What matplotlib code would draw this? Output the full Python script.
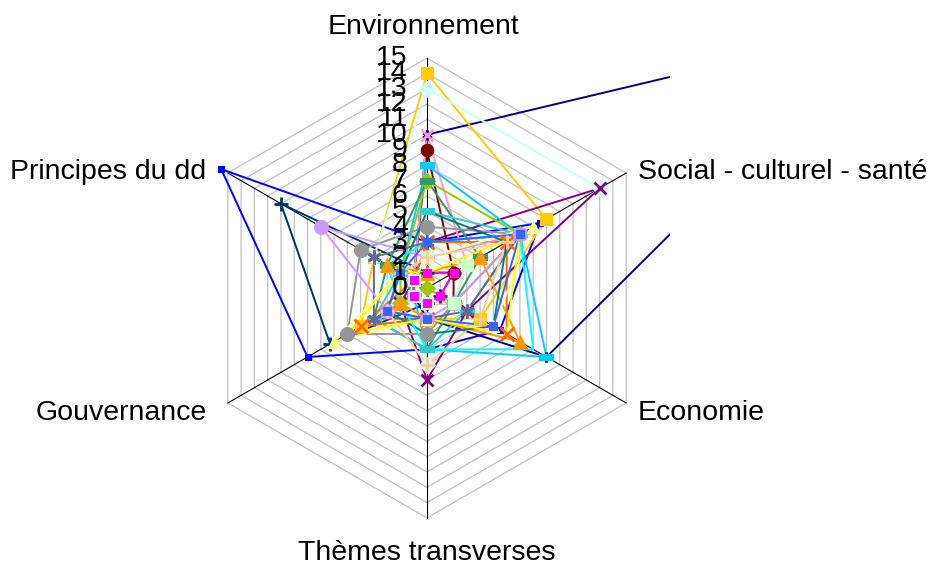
import numpy as np
import matplotlib
matplotlib.use("Agg")
import matplotlib.pyplot as plt
from matplotlib.path import Path

categories = ['Environnement', 'Social - culturel - santé', 'Economie',
              'Thèmes transverses', 'Gouvernance', 'Principes du dd']
ticks = list(range(0, 16))

# one list per series: Env, Social, Economie, Themes, Gouvernance, Principes
s01 = [10, 34, 9, 2, 1, 1]
s02 = [3, 8.5, 5.5, 4, 9, 15.5]
s03 = [1, 2, 1, 1, 7.3, 11]
s04 = [14, 9, 4, 2, 5, 4]
s05 = [13, 13, 3, 5, 2, 4]
s06 = [3, 13, 3, 6, 2, 1]
s07 = [9, 2, 2, 1, 1, 1]
s08 = [10, 3, 2, 1, 1, 1]
s09 = [8, 7, 9, 4, 1, 2]
s10 = [7, 7, 2, 0, 2, 2]
s11 = [7, 4, 2, 4, 4, 3]
s12 = [5, 7, 3, 4, 4, 2]
s13 = [4, 7, 2, 3, 6, 5]
s14 = [3, 6, 6, 2, 5, 1]
s15 = [3, 7, 3, 2, 4, 4]
s16 = [1, 4, 7, 2, 2, 3]
s17 = [2, 7, 2, 2, 3, 8]
s18 = [2, 3, 2, 1, 1, 1]
s19 = [2, 8, 5, 2, 7, 2]
s20 = [2, 6, 4, 5, 3, 2]
s21 = [1, 2, 1, 1, 1, 1]
s22 = [5, 6, 5, 3, 3, 2]
s23 = [3, 7, 8, 4, 2, 3]
s24 = [3, 7, 5, 2, 3, 2]
s25 = [1, 7, 6, 2, 6, 2]

series = [s01, s02, s03, s04, s05, s06, s07, s08, s09, s10, s11, s12, s13,
          s14, s15, s16, s17, s18, s19, s20, s21, s22, s23, s24, s25]

rect = Path([(-1, -0.4), (1, -0.4), (1, 0.4), (-1, 0.4), (-1, -0.4)],
            [Path.MOVETO, Path.LINETO, Path.LINETO, Path.LINETO, Path.CLOSEPOLY])
star = (6, 2, 0)

styles = [
    ('#000080', star, 7), ('#0000FF', 's', 5), ('#003366', '+', 10),
    ('#FFCC00', 's', 9), ('#CCFFFF', 'D', 8), ('#800080', 'x', 9),
    ('#800000', 'o', 9), ('#FF99CC', 'x', 9), ('#00CCFF', rect, 10),
    ('#99CC00', 'D', 8), ('#339966', rect, 10), ('#33CCCC', rect, 10),
    ('#969696', 'o', 10), ('#FF6600', 'x', 10), ('#666699', star, 10),
    ('#FF9900', '^', 10), ('#CC99FF', 'o', 10), ('#CCFFCC', 's', 9),
    ('#FFFF99', '^', 9), ('#FFCC99', '+', 10), ('#FF00FF', 's', 6),
    ('#008080', None, 0), ('#00FFFF', None, 0), ('#3366FF', 's', 6),
    ('#FFFF00', None, 0),
]

n = len(categories)
ang = np.deg2rad(90 - 60 * np.arange(n))
ca, sa = np.cos(ang), np.sin(ang)

def to_xy(vals):
    v = np.asarray(vals, dtype=float)
    x = np.append(v * ca, v[0] * ca[0])
    y = np.append(v * sa, v[0] * sa[0])
    return x, y

fig = plt.figure(figsize=(9.28, 5.66), dpi=100)
plt.rcParams['font.family'] = ['Liberation Sans', 'DejaVu Sans']

# pixel layout: centre at (427, 288), 15.33 px per unit
ppu = 15.33
left_px, right_px, top_px, bot_px = 205, 670, 40, 530
ax = fig.add_axes([left_px / 928, (566 - bot_px) / 566,
                   (right_px - left_px) / 928, (bot_px - top_px) / 566])
ax.set_xlim((left_px - 427) / ppu, (right_px - 427) / ppu)
ax.set_ylim((288 - bot_px) / ppu, (288 - top_px) / ppu)
ax.axis('off')

# hexagonal grid
for t in ticks[1:]:
    gx, gy = to_xy([t] * n)
    ax.plot(gx, gy, color='#C0C0C0', lw=0.9, zorder=1)
for k in range(n):
    ax.plot([0, 15 * ca[k]], [0, 15 * sa[k]], color='#000000', lw=0.8, zorder=1.5)

for i, (vals, (col, mk, ms)) in enumerate(zip(series, styles)):
    x, y = to_xy(vals)
    ax.plot(x, y, color=col, lw=1.4, zorder=2 + i * 0.01)
    if mk is not None:
        mew = 2 if mk in ('x', '+', star) else 0.8
        ax.plot(x[:-1], y[:-1], ls='none', marker=mk, ms=ms, color=col,
                mec=col, mew=mew, zorder=3 + i * 0.01)

# radial tick labels on the top axis (they overlap in the original too)
for t in ticks:
    ax.text(-1.25, t, str(t), ha='right', va='center', fontsize=20.5,
            color='black', zorder=5)

# category labels
lab_pos = [(-0.2, 17.0, 'center'), (13.76, 7.57, 'left'), (13.76, -8.15, 'left'),
           (0.0, -17.3, 'center'), (-14.35, -8.15, 'right'), (-14.4, 7.57, 'right')]
for name, (lx, ly, ha) in zip(categories, lab_pos):
    ax.text(lx, ly, name, ha=ha, va='center', fontsize=20.5, color='black',
            clip_on=False)

fig.savefig('out.png', dpi=100)
